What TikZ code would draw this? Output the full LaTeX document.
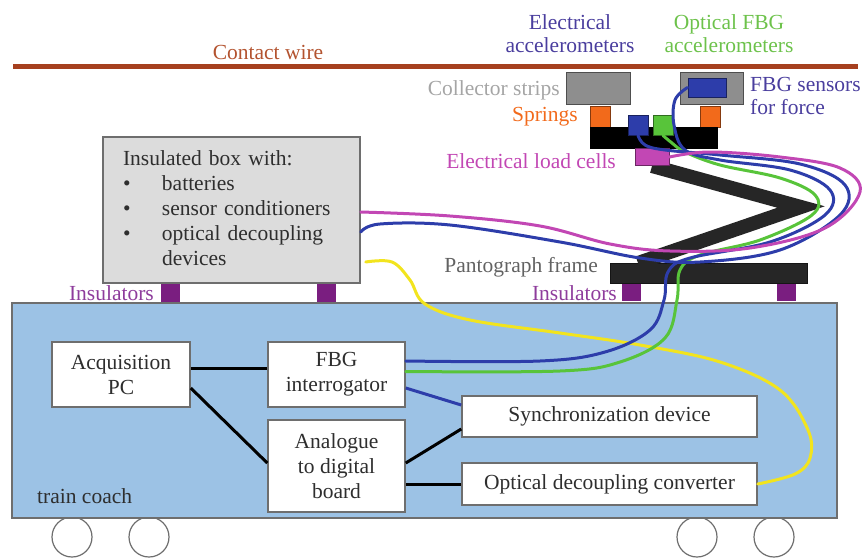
\documentclass[tikz,border=0pt]{standalone}
\usepackage{fontspec}
\setmainfont{Liberation Serif}
\usepackage{tikz}
\usetikzlibrary{positioning}
\usepackage{xcolor}
\definecolor{wire}{HTML}{A6401F}
\definecolor{wiretext}{HTML}{B3532F}
\definecolor{elec}{HTML}{4A3E9E}
\definecolor{optic}{HTML}{6DC24B}
\definecolor{stripgray}{HTML}{8E8E8E}
\definecolor{striptext}{HTML}{A5A5A5}
\definecolor{spring}{HTML}{F26A1B}
\definecolor{cell}{HTML}{C247B4}
\definecolor{fbgblue}{HTML}{2D3DAA}
\definecolor{fibgreen}{HTML}{58C43A}
\definecolor{coachblue}{HTML}{9CC2E5}
\definecolor{insul}{HTML}{7A1E80}
\definecolor{insultext}{HTML}{8E3C9C}
\definecolor{yel}{HTML}{F2E41E}
\definecolor{boxgray}{HTML}{DCDCDC}
\definecolor{edge}{HTML}{6E6E6E}
\definecolor{ink}{HTML}{2E2E2E}
\definecolor{framegray}{HTML}{262626}

\begin{document}
\begin{tikzpicture}[
  x=1pt, y=-1pt,
  every node/.style={font=\fontsize{21.5}{25}\selectfont, text=ink},
  lbl/.style={inner sep=0pt},
  block/.style={draw=edge, line width=1.5pt, fill=white, align=center, inner sep=0pt},
  part/.style={draw=#1!55!black, fill=#1, line width=1pt, inner sep=0pt},
  insulator/.style={fill=insul, inner sep=0pt, minimum width=19pt, minimum height=18pt},
  wheel/.style={circle, draw=edge, line width=1.2pt, fill=white, minimum size=40pt, inner sep=0pt},
  link/.style={line width=3pt, black},
  cable/.style={line width=3pt, line cap=round},
]
  \useasboundingbox (0,0) rectangle (866,557);

  % overhead line
  \draw[wire, line width=5.5pt] (13,66.5) -- (858,66.5);
  \node[lbl, text=wiretext] (contact) at (268,52) {Contact wire};

  % coach with wheels
  \node[wheel] (w1) at (72,537) {};
  \node[wheel] (w2) at (149,537) {};
  \node[wheel] (w3) at (697,537) {};
  \node[wheel] (w4) at (774,537) {};
  \node[draw=edge, line width=1.5pt, fill=coachblue, minimum width=825pt, minimum height=215pt] (coach) at (424.5,410.5) {};
  \node[lbl, anchor=west] (coachlbl) at (37,496) {train coach};

  % insulated box on the roof
  \node[insulator] (ins1) at (170,293) {};
  \node[insulator] (ins2) at (326,293) {};
  \node[draw=edge, line width=1.5pt, fill=boxgray, minimum width=257pt, minimum height=146pt,
        text width=217pt, inner xsep=20pt, align=left] (ibox) at (231.5,210) {%
    \begin{tabular}{@{}p{39pt}@{}l@{}}
      \multicolumn{2}{@{}l}{Insulated box with:}\\
      \textbullet & batteries\\
      \textbullet & sensor conditioners\\
      \textbullet & optical decoupling\\
                  & devices
    \end{tabular}};
  \node[lbl, anchor=east, text=insultext] (inslbl1) at (154,293) {Insulators};

  % pantograph
  \node[insulator] (ins3) at (631,291.5) {};
  \node[insulator] (ins4) at (786,291.5) {};
  \node[part=framegray, minimum width=197pt, minimum height=20pt] (frame) at (708.5,273) {};
  \node[lbl, anchor=east, text=insultext] (inslbl2) at (617,293) {Insulators};
  \node[lbl, anchor=east, text=ink!75] (framelbl) at (598,267) {Pantograph frame};

  \coordinate (elbow) at (801,207);
  \coordinate (foot) at (638,263);

  \node[part=stripgray, minimum width=64pt, minimum height=32pt] (lstrip) at (598,88) {};
  \node[part=stripgray, minimum width=63pt, minimum height=32pt] (rstrip) at (711.5,88) {};
  \node[part=fbgblue, minimum width=38pt, minimum height=19pt] (fsens) at (707,87.5) {};
  \node[part=spring, minimum width=20pt, minimum height=21pt] (lspring) at (600,117) {};
  \node[part=spring, minimum width=20pt, minimum height=21pt] (rspring) at (710,117) {};
  \node[part=black, minimum width=127pt, minimum height=21pt] (head) at (653.5,137.5) {};
  \node[part=fbgblue, minimum width=20pt, minimum height=20pt] (eacc) at (638,125) {};
  \node[part=fibgreen, minimum width=20pt, minimum height=20pt] (oacc) at (663,125) {};
  \node[part=cell, minimum width=34pt, minimum height=17pt] (lcell) at (652,157) {};

  % arm of the pantograph
  \draw[line width=14pt, framegray] (lcell.south) -- (elbow) -- (foot);
  \node[part=cell, minimum width=34pt, minimum height=17pt] at (652,157) {};

  \node[lbl, text=elec, align=center, font=\fontsize{21.5}{23}\selectfont] (elbl) at (570,34) {Electrical\\accelerometers};
  \node[lbl, text=optic, align=center, font=\fontsize{21.5}{23}\selectfont] (olbl) at (729,34) {Optical FBG\\accelerometers};
  \node[lbl, anchor=east, text=striptext] (striplbl) at (560,90) {Collector strips};
  \node[lbl, anchor=east, text=spring] (springlbl) at (578,117) {Springs};
  \node[lbl, anchor=east, text=cell] (celllbl) at (616,161) {Electrical load cells};
  \node[lbl, anchor=west, text=elec, align=left, font=\fontsize{21.5}{23}\selectfont] (forcelbl) at (750,96) {FBG sensors\\for force};

  % units inside the coach
  \node[block, minimum width=138pt, minimum height=65pt] (pc) at (121,374.5) {Acquisition\\PC};
  \node[block, minimum width=137pt, minimum height=65pt] (fbg) at (336.5,374.5) {FBG\\interrogator};
  \node[block, minimum width=137pt, minimum height=92pt] (adc) at (336.5,466) {Analogue\\to digital\\board};
  \node[block, minimum width=295pt, minimum height=41pt] (sync) at (609.5,416.5) {Synchronization device};
  \node[block, minimum width=295pt, minimum height=42pt] (odc) at (609.5,484) {Optical decoupling converter};

  % wiring between units
  \draw[link] ([yshift=6.5pt]pc.east) -- ([yshift=6.5pt]fbg.east -| fbg.west);
  \draw[link] ([yshift=-13.5pt]pc.east) -- ([yshift=3pt]adc.west);
  \draw[link] ([yshift=3pt]adc.east) -- ([yshift=-12.5pt]sync.west);
  \draw[link] (adc.east |- odc.west) -- (odc.west);
  \draw[cable, fbgblue, line cap=butt] ([yshift=-13.5pt]fbg.east) -- ([yshift=11.5pt]sync.west);

  % cables up to the pantograph head
  \draw[cable, yel] plot[smooth, tension=0.6] coordinates {([xshift=5pt,yshift=-52pt]ibox.east)
    (392,262) (410,280) (425,304) (470,320) (560,333) (640,345) (720,362) (780,390)
    (808,430) (810,458) (795,474) (odc.east)};
  \draw[cable, fibgreen] plot[smooth, tension=0.6] coordinates {([yshift=3pt]fbg.east)
    (560,371) (620,362) (665,338) (677,300) (680,270) (700,255) (760,240) (812,215)
    (815,195) (780,178) (720,165) (685,152) (672,143) (oacc.south)};
  \draw[cable, fbgblue] plot[smooth, tension=0.6] coordinates {([yshift=13.5pt]fbg.east)
    (540,361) (605,352) (650,330) (664,300) (668,272) (690,258) (770,242) (825,215)
    (830,190) (790,170) (720,160) (685,150) (674,125) (675,100) (fsens.west)};
  \draw[cable, fbgblue] plot[smooth, tension=0.6] coordinates {([yshift=-22pt]ibox.east)
    (380,224) (450,225) (560,242) (640,258) (700,262) (780,250) (840,215) (845,185)
    (800,164) (720,155) (665,150) (645,145) (eacc.south)};
  \draw[cable, cell] plot[smooth, tension=0.6] coordinates {([yshift=-2pt]ibox.east)
    (450,216) (540,226) (610,244) (670,251) (750,248) (825,228) (860,192) (840,168)
    (780,157) (710,152) (lcell.east)};
\end{tikzpicture}
\end{document}
